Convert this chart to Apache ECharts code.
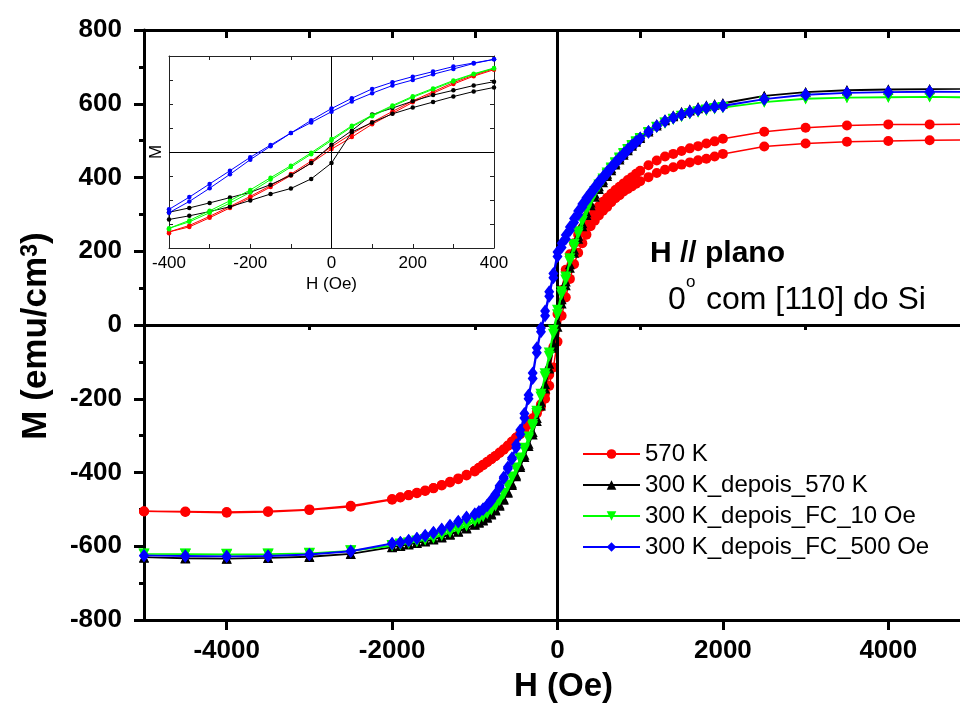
<!DOCTYPE html>
<html>
<head>
<meta charset="utf-8">
<script src="https://cdn.jsdelivr.net/npm/echarts@6/dist/echarts.min.js"></script>
<style>
  html, body { margin: 0; padding: 0; background: #fff; }
  #chart { width: 960px; height: 706px; }
</style>
</head>
<body>
<div id="chart"></div>
<script>
// Field sweep (Oe), from +5000 down to -5000. The return branch uses the same fields in reverse.
const fieldSweep = [
  5000, 4500, 4000, 3500, 3000, 2500, 2000,
  1900, 1800, 1700, 1600, 1500, 1400, 1300, 1200, 1100, 1000,
  950, 900, 850, 800, 750, 700, 650, 600, 550, 500,
  450, 400, 350, 300, 250, 200, 150, 100, 50, 0,
  -50, -100, -150, -200, -250, -300, -350, -400, -450,
  -500, -550, -600, -650, -700, -750, -800, -850, -900, -950,
  -1000, -1100, -1200, -1300, -1400, -1500, -1600, -1700, -1800, -1900,
  -2000, -2500, -3000, -3500, -4000, -4500, -5000
];

// M (emu/cm3). "Down" = decreasing field branch, "Up" = increasing field branch,
// both listed in the order of fieldSweep.
const m570Down = [
  545, 544, 544, 541, 535, 524, 505,
  498, 492, 485, 479, 472, 464, 457, 446, 433, 418,
  410, 401, 393, 384, 375, 366, 356, 345, 334, 322,
  309, 295, 280, 263, 245, 222, 192, 150, 95, 30,
  -60, -135, -185, -215, -236, -253, -268, -282, -294,
  -305, -316, -327, -337, -346, -355, -363, -371, -379, -387,
  -395, -406, -416, -425, -434, -442, -449, -455, -461, -467,
  -472, -490, -500, -505, -507, -506, -505
];
const m570Up = [
  502, 501, 499, 497, 492, 484, 464,
  457, 451, 447, 441, 435, 428, 421, 412, 401, 390,
  383, 376, 369, 362, 352, 344, 333, 320, 310, 297,
  283, 268, 245, 222, 196, 165, 125, 75, 25, -45,
  -115, -165, -200, -222, -240, -256, -270, -284, -296,
  -306, -317, -328, -338, -347, -356, -364, -372, -380, -388,
  -397, -408, -418, -427, -435, -443, -450, -456, -462, -468,
  -474, -493, -502, -507, -509, -507, -506
];

const m300Down = [
  640, 640, 639, 637, 632, 622, 602,
  599, 596, 591, 585, 578, 569, 558, 545, 529, 511,
  501, 490, 479, 467, 454, 440, 425, 410, 394, 376,
  356, 332, 306, 276, 242, 205, 165, 118, 70, 10,
  -50, -105, -160, -208, -252, -290, -322, -352, -380,
  -406, -430, -452, -471, -487, -500, -511, -520, -528, -534,
  -540, -550, -559, -567, -574, -580, -585, -590, -594, -598,
  -602, -620, -628, -631, -633, -632, -630
];
const m300Up = [
  640, 639, 638, 636, 631, 621, 600,
  597, 593, 588, 582, 575, 566, 555, 541, 525, 507,
  497, 486, 474, 462, 449, 435, 420, 404, 387, 369,
  348, 325, 298, 268, 234, 196, 155, 108, 58, -5,
  -62, -118, -172, -218, -260, -297, -328, -358, -385,
  -410, -434, -455, -474, -490, -503, -514, -523, -530, -536,
  -542, -552, -561, -569, -576, -582, -587, -591, -595, -599,
  -603, -621, -629, -632, -634, -633, -631
];

const mFc10Down = [
  618, 619, 618, 617, 614, 605, 590,
  587, 583, 578, 573, 566, 558, 548, 536, 522, 506,
  497, 487, 476, 465, 453, 440, 426, 412, 396, 380,
  362, 340, 316, 287, 253, 218, 180, 130, 90, 40,
  -14, -76, -132, -188, -234, -270, -304, -334, -361,
  -388, -412, -434, -457, -474, -489, -500, -510, -518, -525,
  -531, -543, -553, -561, -569, -576, -582, -586, -591, -594,
  -598, -612, -619, -621, -622, -621, -621
];
const mFc10Up = [
  617, 618, 617, 616, 613, 604, 589,
  586, 582, 577, 572, 565, 557, 547, 535, 520, 504,
  495, 485, 474, 463, 450, 437, 423, 408, 392, 375,
  357, 335, 310, 281, 247, 210, 172, 122, 82, 28,
  -25, -85, -140, -195, -240, -276, -309, -338, -365,
  -391, -415, -437, -459, -476, -491, -502, -512, -520, -527,
  -533, -545, -555, -563, -571, -578, -583, -588, -592, -596,
  -599, -613, -620, -622, -623, -622, -622
];

const mFc500Down = [
  632, 633, 632, 630, 625, 613, 595,
  592, 589, 584, 578, 571, 563, 553, 540, 525, 507,
  498, 488, 477, 466, 454, 442, 429, 416, 403, 390,
  375, 360, 345, 328, 309, 289, 266, 244, 222, 198,
  140, 90, 38, -8, -62, -130, -190, -240, -285,
  -325, -360, -385, -412, -436, -458, -474, -488, -498, -506,
  -512, -521, -532, -543, -553, -562, -570, -578, -584, -589,
  -592, -613, -622, -626, -627, -626, -625
];
const mFc500Up = [
  632, 632, 631, 629, 624, 612, 593,
  591, 588, 583, 577, 570, 562, 552, 539, 523, 505,
  495, 485, 474, 462, 450, 437, 424, 410, 397, 383,
  368, 353, 337, 319, 299, 278, 256, 233, 210, 186,
  128, 78, 25, -18, -75, -145, -200, -252, -296,
  -333, -364, -390, -416, -440, -461, -477, -490, -500, -508,
  -514, -523, -534, -545, -555, -564, -572, -579, -585, -590,
  -593, -614, -623, -627, -628, -627, -626
];

// Low-field detail (inset), field from +400 to -400 Oe
const insetField = [400, 350, 300, 250, 200, 150, 100, 50, 0, -50, -100, -150, -200, -250, -300, -350, -400];
const in570Down = [347, 320, 289, 251, 213, 169, 124, 76, 22, -38, -92, -140, -185, -227, -268, -306, -333];
const in570Up   = [343, 316, 283, 245, 207, 161, 116, 62, 12, -46, -98, -146, -191, -233, -274, -312, -339];
const in300Down = [293, 277, 257, 237, 212, 183, 156, 89, 30, -46, -97, -136, -168, -190, -212, -233, -251];
const in300Up   = [269, 252, 231, 208, 185, 159, 123, 83, -46, -112, -152, -175, -202, -228, -248, -266, -281];
const inFc10Down = [350, 326, 298, 265, 232, 194, 153, 109, 54, -3, -57, -107, -158, -203, -245, -285, -318];
const inFc10Up   = [348, 324, 294, 261, 228, 190, 149, 105, 48, -9, -63, -115, -168, -213, -253, -291, -322];
const inFc500Down = [386, 371, 356, 335, 314, 291, 263, 224, 181, 132, 79, 29, -22, -78, -133, -188, -239];
const inFc500Up   = [386, 369, 346, 324, 300, 277, 245, 210, 168, 123, 79, 24, -32, -93, -151, -206, -253];

const seriesNames = ['570 K', '300 K_depois_570 K', '300 K_depois_FC_10 Oe', '300 K_depois_FC_500 Oe'];
const seriesColors = ['#ff0000', '#000000', '#00ff00', '#0000ff'];

const xTickValues = [-4000, -2000, 0, 2000, 4000];
const xMinorTickValues = [-5000, -3000, -1000, 1000, 3000, 5000];
const insetXLabels = [-400, -200, 0, 200, 400];

// Join the two branches into one closed hysteresis path
function loop(fields, down, up) {
  const pts = fields.map((h, i) => [h, down[i]]);
  for (let i = fields.length - 1; i >= 0; i--) pts.push([fields[i], up[i]]);
  return pts;
}

const FONT = "'Liberation Sans', Arial, sans-serif";
const plain = v => String(v);

const mainLoops = [
  loop(fieldSweep, m570Down, m570Up),
  loop(fieldSweep, m300Down, m300Up),
  loop(fieldSweep, mFc10Down, mFc10Up),
  loop(fieldSweep, mFc500Down, mFc500Up)
];
const insetLoops = [
  loop(insetField, in570Down, in570Up),
  loop(insetField, in300Down, in300Up),
  loop(insetField, inFc10Down, inFc10Up),
  loop(insetField, inFc500Down, inFc500Up)
];
const mainSymbols = [
  { symbol: 'circle', symbolSize: 10, symbolRotate: 0 },
  { symbol: 'triangle', symbolSize: 10, symbolRotate: 0 },
  { symbol: 'triangle', symbolSize: 11, symbolRotate: 180 },
  { symbol: 'diamond', symbolSize: [10, 13], symbolRotate: 0 }
];

const series = [];

// Zero lines of the main frame
series.push({
  type: 'line', xAxisIndex: 0, yAxisIndex: 0, data: [], z: 1, silent: true,
  markLine: {
    silent: true, symbol: ['none', 'none'], label: { show: false },
    lineStyle: { type: 'solid', color: '#000', width: 3 },
    emphasis: { disabled: true },
    data: [{ xAxis: 0 }, { yAxis: 0 }]
  }
});

mainLoops.forEach((d, i) => {
  series.push({
    name: seriesNames[i], type: 'line', xAxisIndex: 0, yAxisIndex: 0,
    data: d, z: 3 + i,
    symbol: mainSymbols[i].symbol, symbolSize: mainSymbols[i].symbolSize,
    symbolRotate: mainSymbols[i].symbolRotate,
    showAllSymbol: true,
    lineStyle: { color: seriesColors[i], width: 1.5 },
    itemStyle: { color: seriesColors[i] },
    emphasis: { disabled: true }
  });
});

// Zero lines of the inset
series.push({
  type: 'line', xAxisIndex: 3, yAxisIndex: 1, data: [], z: 1, silent: true,
  markLine: {
    silent: true, symbol: ['none', 'none'], label: { show: false },
    lineStyle: { type: 'solid', color: '#000', width: 1 },
    emphasis: { disabled: true },
    data: [{ xAxis: 0 }, { yAxis: 0 }]
  }
});

insetLoops.forEach((d, i) => {
  series.push({
    name: seriesNames[i], type: 'line', xAxisIndex: 3, yAxisIndex: 1,
    data: d, z: 3 + i,
    symbol: 'circle', symbolSize: 4.5, showAllSymbol: true,
    lineStyle: { color: seriesColors[i], width: 1 },
    itemStyle: { color: seriesColors[i] },
    emphasis: { disabled: true }
  });
});

const axisBlack = { color: '#000', width: 3 };
const insetLine = { color: '#222', width: 1 };

const option = {
  animation: false,
  backgroundColor: '#fff',
  textStyle: { fontFamily: FONT },
  grid: [
    // the frame runs past the right edge of the page, so +5000 is cut off
    { left: 144, top: 30, width: 827, bottom: 86, outerBoundsMode: 'none', containLabel: false },
    { left: 169, top: 56, width: 325, height: 192, outerBoundsMode: 'none', containLabel: false,
      backgroundColor: '#fff', show: true, borderWidth: 0 }
  ],
  legend: {
    data: seriesNames,
    orient: 'vertical',
    left: 577, top: 437,
    itemWidth: 57, itemHeight: 12, itemGap: 7,
    textStyle: { fontSize: 24, color: '#000', fontFamily: FONT },
    selectedMode: false
  },
  xAxis: [
    { // bottom, labelled
      gridIndex: 0, type: 'value', position: 'bottom', min: -5000, max: 5000,
      name: 'H (Oe)', nameLocation: 'middle', nameGap: 50,
      nameTextStyle: { fontSize: 33, fontWeight: 'bold', color: '#000', fontFamily: FONT, padding: [0, 0, 0, 12] },
      axisLine: { onZero: false, lineStyle: axisBlack },
      axisTick: { customValues: xTickValues, length: 10, lineStyle: axisBlack },
      axisLabel: { customValues: xTickValues, formatter: plain, fontSize: 26, fontWeight: 'bold', color: '#000', margin: 18, fontFamily: FONT },
      splitLine: { show: false }
    },
    { // bottom, minor ticks
      gridIndex: 0, type: 'value', position: 'bottom', min: -5000, max: 5000,
      axisLine: { show: false },
      axisTick: { customValues: xMinorTickValues, length: 5, lineStyle: axisBlack },
      axisLabel: { show: false },
      splitLine: { show: false }
    },
    { // top frame
      gridIndex: 0, type: 'value', position: 'top', min: -5000, max: 5000, interval: 1000,
      axisLine: { onZero: false, lineStyle: axisBlack },
      axisTick: { inside: true, length: 8, lineStyle: axisBlack },
      axisLabel: { show: false },
      splitLine: { show: false }
    },
    { // inset bottom
      gridIndex: 1, type: 'value', position: 'bottom', min: -400, max: 400, interval: 100,
      name: 'H (Oe)', nameLocation: 'middle', nameGap: 28,
      nameTextStyle: { fontSize: 17, color: '#000', fontFamily: FONT },
      axisLine: { onZero: false, lineStyle: insetLine },
      axisTick: { inside: true, length: 4, lineStyle: insetLine },
      axisLabel: { customValues: insetXLabels, formatter: plain, fontSize: 17, color: '#000', margin: 7, fontFamily: FONT },
      splitLine: { show: false }
    },
    { // inset top
      gridIndex: 1, type: 'value', position: 'top', min: -400, max: 400, interval: 100,
      axisLine: { onZero: false, lineStyle: insetLine },
      axisTick: { inside: true, length: 4, lineStyle: insetLine },
      axisLabel: { show: false },
      splitLine: { show: false }
    }
  ],
  yAxis: [
    {
      gridIndex: 0, type: 'value', position: 'left', min: -800, max: 800, interval: 200,
      name: 'M (emu/cm{sup|3})', nameLocation: 'middle', nameGap: 90,
      nameTextStyle: {
        fontSize: 35, fontWeight: 'bold', color: '#000', fontFamily: FONT, padding: [0, 22, 0, 0],
        rich: { sup: { fontSize: 23, fontWeight: 'bold', verticalAlign: 'top', color: '#000', fontFamily: FONT } }
      },
      axisLine: { onZero: false, lineStyle: axisBlack },
      axisTick: { length: 10, lineStyle: axisBlack },
      minorTick: { show: true, splitNumber: 2, length: 5, lineStyle: axisBlack },
      axisLabel: { formatter: plain, fontSize: 26, fontWeight: 'bold', color: '#000', margin: 22, fontFamily: FONT },
      splitLine: { show: false }, minorSplitLine: { show: false }
    },
    {
      gridIndex: 1, type: 'value', position: 'left', min: -400, max: 400, interval: 100,
      name: 'M', nameLocation: 'middle', nameGap: 4,
      nameTextStyle: { fontSize: 17, color: '#000', fontFamily: FONT },
      axisLine: { onZero: false, lineStyle: insetLine },
      axisTick: { inside: true, length: 4, lineStyle: insetLine },
      axisLabel: { show: false },
      splitLine: { show: false }
    },
    {
      gridIndex: 1, type: 'value', position: 'right', min: -400, max: 400, interval: 100,
      axisLine: { onZero: false, lineStyle: insetLine },
      axisTick: { inside: true, length: 4, lineStyle: insetLine },
      axisLabel: { show: false },
      splitLine: { show: false }
    }
  ],
  graphic: [
    { type: 'text', left: 650, top: 239, z: 100,
      style: { text: 'H // plano', fontSize: 30, fontWeight: 'bold', fill: '#000', fontFamily: FONT } },
    { type: 'text', left: 668, top: 284, z: 100,
      style: { text: '0', fontSize: 32, fill: '#000', fontFamily: FONT } },
    { type: 'text', left: 686, top: 274, z: 100,
      style: { text: 'o', fontSize: 17, fill: '#000', fontFamily: FONT } },
    { type: 'text', left: 697, top: 284, z: 100,
      style: { text: ' com [110] do Si', fontSize: 32, fill: '#000', fontFamily: FONT } }
  ],
  series: series
};

const chart = echarts.init(document.getElementById('chart'), null, { renderer: 'canvas' });
chart.setOption(option);
</script>
</body>
</html>
